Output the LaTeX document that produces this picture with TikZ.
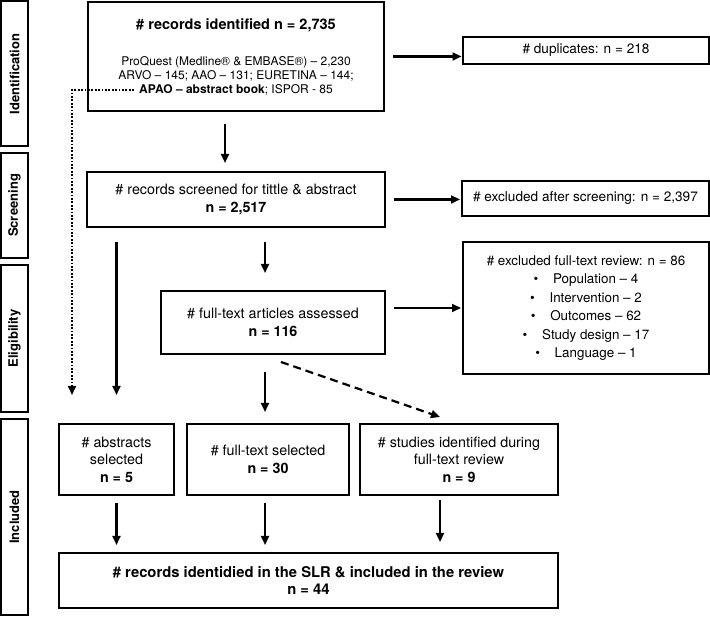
\documentclass[tikz,border=0pt]{standalone}
\usepackage{fontspec}
\setmainfont{TeX Gyre Heros}
\usetikzlibrary{arrows.meta}
\begin{document}
\begin{tikzpicture}[x=1pt,y=-1pt,
  box/.style={draw, line width=2pt, rectangle, inner sep=0pt, align=center,
    font=\fontsize{14.3}{17.5}\selectfont},
  exbox/.style={box, font=\fontsize{13.6}{18.5}\selectfont},
  phase/.style={draw, line width=2pt, rectangle, rotate=90, inner sep=0pt,
    minimum height=27pt, font=\fontsize{13}{15}\selectfont\bfseries},
  plain/.style={inner sep=0pt, align=center},
  arr/.style={line width=2.2pt, -{Triangle[length=9pt,width=8pt]}},
  dotarr/.style={line width=1.8pt, dash pattern=on 1.8pt off 1.6pt, -{Triangle[length=9pt,width=8pt]}},
  dasharr/.style={line width=2.2pt, dash pattern=on 8pt off 5pt, -{Triangle[length=9pt,width=8pt]}},
]
\useasboundingbox (0,0) rectangle (710,617);

% phase labels
\node[phase, minimum width=145pt] (pid) at (14.5,74) {Identification};
\node[phase, minimum width=105pt] (psc) at (14.5,205.5) {Screening};
\node[phase, minimum width=147pt] (pel) at (14.5,338.5) {Eligibility};
\node[phase, minimum width=196pt] (pin) at (14.5,517) {Included};

% identification
\node[box, minimum width=296pt, minimum height=109pt] (top) at (236,56.5) {};
\node[plain, font=\fontsize{14.5}{17}\selectfont\bfseries] (topT) at (236,25) {\# records identified n = 2,735};
\node[plain, font=\fontsize{12}{14.2}\selectfont] (topL) at (236,76) {ProQuest (Medline® \& EMBASE®) – 2,230\\
ARVO – 145; AAO – 131; EURETINA – 144;\\
\textbf{APAO – abstract book}; ISPOR - 85};
\node[exbox, minimum width=246pt, minimum height=27pt] (dup) at (586,50.5) {\# duplicates: n = 218};

% screening
\node[box, minimum width=298pt, minimum height=55pt] (screen) at (236,199.5) {\# records screened for tittle \& abstract\\ \textbf{n = 2,517}};
\node[exbox, minimum width=247pt, minimum height=35pt] (excl1) at (585.5,198.5) {\# excluded after screening: n = 2,397};

% eligibility
\node[box, minimum width=224pt, minimum height=63pt] (full) at (273,322.5) {\# full-text articles assessed\\ \textbf{n = 116}};
\node[exbox, font=\fontsize{13.4}{18.5}\selectfont, minimum width=246pt, minimum height=132pt] (excl2) at (586,308) {\# excluded full-text review: n = 86\\
•\hspace{1.1em}Population – 4\\
•\hspace{1.1em}Intervention – 2\\
•\hspace{1.1em}Outcomes – 62\\
•\hspace{1.1em}Study design – 17\\
•\hspace{1.1em}Language – 1};

% included
\node[box, minimum width=115pt, minimum height=71pt] (abs) at (116.5,459.5) {\# abstracts\\ selected\\ \textbf{n = 5}};
\node[box, minimum width=162pt, minimum height=71pt] (fsel) at (268,459.5) {\# full-text selected\\ \textbf{n = 30}};
\node[box, minimum width=198pt, minimum height=71pt] (stud) at (459,459.5) {\# studies identified during\\ full-text review\\ \textbf{n = 9}};
\node[box, minimum width=499pt, minimum height=55pt, font=\fontsize{14.8}{17.5}\selectfont\bfseries] (final) at (308.5,580.5) {\# records identidied in the SLR \& included in the review\\ n = 44};

% helper coordinates
\coordinate (xa) at (225,0);
\coordinate (xb) at (265,0);
\coordinate (xc) at (440,0);
\coordinate (xd) at (72,0);
\coordinate (dots) at (134,90);
\coordinate (ds) at (281,362);
\coordinate (de) at (440,417);

% connectors
\draw[arr, shorten <=12pt, shorten >=8pt] (top.south -| xa) -- (screen.north -| xa);
\draw[arr, shorten <=8pt, shorten >=0.5pt] (top.east) -- (dup.west |- top.east);
\draw[arr, shorten <=8pt, shorten >=1pt] (screen.east) -- (excl1.west |- screen.east);
\draw[arr, shorten <=8pt, shorten >=1pt] (excl2.west -| full.east) -- (excl2.west);
\draw[arr, shorten <=14pt, shorten >=28pt] (screen.south -| abs.north) -- (abs.north);
\draw[arr, shorten <=14pt, shorten >=17pt] (screen.south -| xb) -- (full.north -| xb);
\draw[dotarr, shorten >=28pt] (dots) -- (dots -| xd) -- (abs.north -| xd);
\draw[arr, shorten <=17pt, shorten >=11pt] (full.south -| xb) -- (fsel.north -| xb);
\draw[dasharr] (ds) -- (de);
\draw[arr, shorten <=7pt, shorten >=7pt] (abs.south) -- (final.north -| abs.south);
\draw[arr, shorten <=7pt, shorten >=7pt] (fsel.south -| xb) -- (final.north -| xb);
\draw[arr, shorten <=4pt, shorten >=10pt] (stud.south -| xc) -- (final.north -| xc);
\end{tikzpicture}
\end{document}
